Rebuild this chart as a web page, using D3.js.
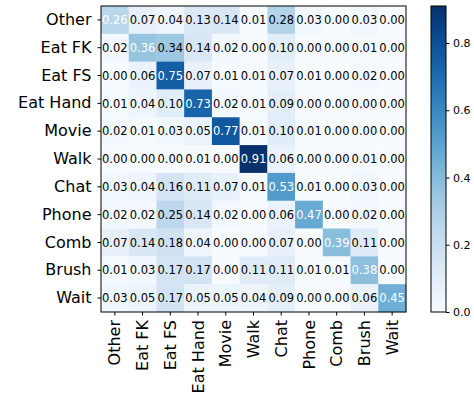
<!DOCTYPE html>
<html>
<head>
<meta charset="utf-8">
<script src="https://cdn.jsdelivr.net/npm/d3@7"></script>
<style>
  html, body { margin: 0; padding: 0; background: #fff; }
  svg { display: block; font-family: "DejaVu Sans", sans-serif; }
</style>
</head>
<body>
<svg id="chart" width="474" height="405"></svg>
<script>
// Activity classes (rows = true class, columns = predicted class)
const categories = ["Other", "Eat FK", "Eat FS", "Eat Hand", "Movie", "Walk",
                    "Chat", "Phone", "Comb", "Brush", "Wait"];

// Row-normalised confusion values
const rowOther   = [0.26, 0.07, 0.04, 0.13, 0.14, 0.01, 0.28, 0.03, 0.00, 0.03, 0.00];
const rowEatFK   = [0.02, 0.36, 0.34, 0.14, 0.02, 0.00, 0.10, 0.00, 0.00, 0.01, 0.00];
const rowEatFS   = [0.00, 0.06, 0.75, 0.07, 0.01, 0.01, 0.07, 0.01, 0.00, 0.02, 0.00];
const rowEatHand = [0.01, 0.04, 0.10, 0.73, 0.02, 0.01, 0.09, 0.00, 0.00, 0.00, 0.00];
const rowMovie   = [0.02, 0.01, 0.03, 0.05, 0.77, 0.01, 0.10, 0.01, 0.00, 0.00, 0.00];
const rowWalk    = [0.00, 0.00, 0.00, 0.01, 0.00, 0.91, 0.06, 0.00, 0.00, 0.01, 0.00];
const rowChat    = [0.03, 0.04, 0.16, 0.11, 0.07, 0.01, 0.53, 0.01, 0.00, 0.03, 0.00];
const rowPhone   = [0.02, 0.02, 0.25, 0.14, 0.02, 0.00, 0.06, 0.47, 0.00, 0.02, 0.00];
const rowComb    = [0.07, 0.14, 0.18, 0.04, 0.00, 0.00, 0.07, 0.00, 0.39, 0.11, 0.00];
const rowBrush   = [0.01, 0.03, 0.17, 0.17, 0.00, 0.11, 0.11, 0.01, 0.01, 0.38, 0.00];
const rowWait    = [0.03, 0.05, 0.17, 0.05, 0.05, 0.04, 0.09, 0.00, 0.00, 0.06, 0.45];

const matrix = [rowOther, rowEatFK, rowEatFS, rowEatHand, rowMovie, rowWalk,
                rowChat, rowPhone, rowComb, rowBrush, rowWait];

const colorbarTicks = [0.0, 0.2, 0.4, 0.6, 0.8];

// Layout
const plot = { left: 101, top: 6, right: 406, bottom: 312 };
const cbar = { left: 431, right: 446 };

const svg = d3.select("#chart");

const x = d3.scaleBand().domain(categories).range([plot.left, plot.right]).padding(0);
const y = d3.scaleBand().domain(categories).range([plot.top, plot.bottom]).padding(0);

const vmax = d3.max(matrix.flat());
const color = d3.scaleSequential(d3.interpolateBlues).domain([0, vmax]);

const cells = [];
matrix.forEach((row, i) => row.forEach((v, j) => cells.push({ r: categories[i], c: categories[j], i, j, v })));

// Heatmap cells
svg.append("g").selectAll("rect").data(cells).join("rect")
  .attr("x", d => x(d.c))
  .attr("y", d => y(d.r))
  .attr("width", x.bandwidth() + 0.3)
  .attr("height", y.bandwidth() + 0.3)
  .attr("fill", d => color(d.v));

// Cell annotations (diagonal in white)
svg.append("g").selectAll("text").data(cells).join("text")
  .attr("x", d => x(d.c) + x.bandwidth() / 2)
  .attr("y", d => y(d.r) + y.bandwidth() / 2)
  .attr("dy", "0.36em")
  .attr("text-anchor", "middle")
  .attr("font-size", "11.5px")
  .attr("fill", d => d.i === d.j ? "#ffffff" : "#000000")
  .text(d => d.v.toFixed(2));

// Axes
const yAxis = svg.append("g")
  .attr("transform", `translate(${plot.left},0)`)
  .call(d3.axisLeft(y).tickSize(3.5).tickPadding(6));
yAxis.select(".domain").remove();
yAxis.selectAll("text").attr("font-size", "16px").attr("fill", "#000")
  .attr("font-family", "DejaVu Sans, sans-serif");
yAxis.selectAll("line").attr("stroke", "#000");

const xAxis = svg.append("g")
  .attr("transform", `translate(0,${plot.bottom})`)
  .call(d3.axisBottom(x).tickSize(3.5).tickPadding(3.5));
xAxis.select(".domain").remove();
xAxis.selectAll("line").attr("stroke", "#000");
xAxis.selectAll("text")
  .attr("font-size", "16px").attr("fill", "#000")
  .attr("font-family", "DejaVu Sans, sans-serif")
  .attr("transform", "rotate(-90)")
  .attr("text-anchor", "end")
  .attr("x", -8)
  .attr("y", 0)
  .attr("dy", "0.35em");

// Frame around the heatmap
svg.append("rect")
  .attr("x", plot.left).attr("y", plot.top)
  .attr("width", plot.right - plot.left).attr("height", plot.bottom - plot.top)
  .attr("fill", "none").attr("stroke", "#000").attr("stroke-width", 1);

// Colorbar
const cy = d3.scaleLinear().domain([0, vmax]).range([plot.bottom, plot.top]);
const grad = svg.append("defs").append("linearGradient")
  .attr("id", "cbgrad").attr("x1", 0).attr("y1", 1).attr("x2", 0).attr("y2", 0);
d3.range(0, 1.0001, 0.05).forEach(t => {
  grad.append("stop").attr("offset", t).attr("stop-color", color(t * vmax));
});
svg.append("rect")
  .attr("x", cbar.left).attr("y", plot.top)
  .attr("width", cbar.right - cbar.left).attr("height", plot.bottom - plot.top)
  .attr("fill", "url(#cbgrad)")
  .attr("stroke", "#000").attr("stroke-width", 1);

const cAxis = svg.append("g")
  .attr("transform", `translate(${cbar.right},0)`)
  .call(d3.axisRight(cy).tickValues(colorbarTicks).tickFormat(d3.format(".1f")).tickSize(3.5).tickPadding(3.5));
cAxis.select(".domain").remove();
cAxis.selectAll("line").attr("stroke", "#000");
cAxis.selectAll("text").attr("font-size", "11px").attr("fill", "#000")
  .attr("font-family", "DejaVu Sans, sans-serif");
</script>
</body>
</html>
